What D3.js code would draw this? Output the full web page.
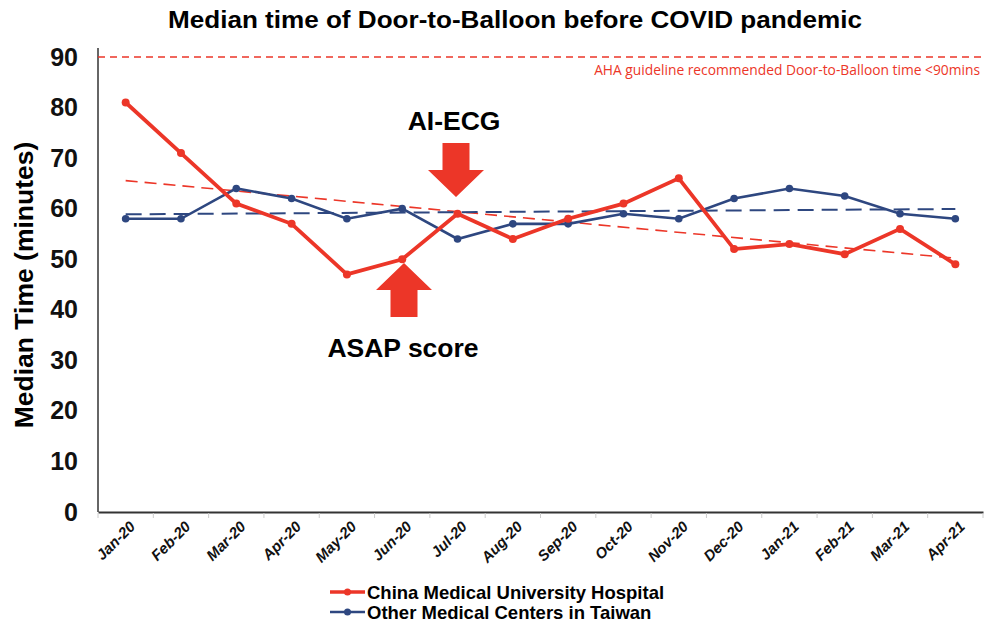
<!DOCTYPE html>
<html><head><meta charset="utf-8">
<script src="https://cdn.jsdelivr.net/npm/d3@7"></script>
<style>body{margin:0;background:#fff;}svg{display:block;}</style>
</head><body>
<svg id="c" width="984" height="626"></svg>
<script>
const months = ["Jan-20","Feb-20","Mar-20","Apr-20","May-20","Jun-20","Jul-20","Aug-20","Sep-20","Oct-20","Nov-20","Dec-20","Jan-21","Feb-21","Mar-21","Apr-21"];
const cmuh = [81,71,61,57,47,50,59,54,58,61,66,52,53,51,56,49];
const others = [58,58,64,62,58,60,54,57,57,59,58,62,64,62.5,59,58];
const yTicks = [0,10,20,30,40,50,60,70,80,90];
const guideline = 90;
const seriesNames = ["China Medical University Hospital","Other Medical Centers in Taiwan"];

const red = "#ec3628", blue = "#2e4780";
const svg = d3.select("#c");
const x = d3.scaleBand().domain(months).range([98, 983]);
const y = d3.scaleLinear().domain([0, 90]).range([512, 57]);
const cx = d => x(d) + x.bandwidth()/2;
const F = "'Liberation Sans', Arial, sans-serif";

// title
svg.append("text").attr("x", 515).attr("y", 28).attr("text-anchor","middle")
  .attr("font-family",F).attr("font-weight","bold").attr("font-size",24)
  .attr("textLength",694).attr("lengthAdjust","spacingAndGlyphs")
  .text("Median time of Door-to-Balloon before COVID pandemic");

// y axis
const ya = svg.append("g").attr("transform","translate(98,0)")
  .call(d3.axisLeft(y).tickValues(yTicks).tickSize(0).tickPadding(20));
ya.select(".domain").attr("stroke","#333").attr("stroke-width",1.5).attr("d","M0,48V512");
ya.selectAll("text").attr("font-family",F).attr("font-weight","bold").attr("font-size",25).attr("fill","#111");

svg.append("text").attr("transform","translate(33,285) rotate(-90)").attr("text-anchor","middle")
  .attr("font-family",F).attr("font-weight","bold").attr("font-size",26.5).text("Median Time (minutes)");

// x axis
const xa = svg.append("g").attr("transform","translate(0,512)")
  .call(d3.axisBottom(x).tickSize(0).tickPadding(10));
xa.select(".domain").attr("stroke","#333").attr("stroke-width",2.2);
xa.selectAll("text").attr("font-family",F).attr("font-weight","bold").attr("font-style","italic")
  .attr("font-size",15).attr("fill","#111").attr("text-anchor","end")
  .attr("transform", "translate(-4,1) rotate(-45)").attr("dx","0").attr("dy","0.7em");
// boundary ticks
svg.append("g").selectAll("line").data(months.concat(["_end"])).join("line")
  .attr("x1",(d,i)=>98+i*x.bandwidth()).attr("x2",(d,i)=>98+i*x.bandwidth())
  .attr("y1",513).attr("y2",518).attr("stroke","#ccc").attr("stroke-width",1);

// guideline
svg.append("line").attr("x1",98).attr("x2",983).attr("y1",y(guideline)).attr("y2",y(guideline))
  .attr("stroke",red).attr("stroke-width",1.3).attr("stroke-dasharray","7,5");
svg.append("text").attr("x",980).attr("y",75).attr("text-anchor","end")
  .attr("font-family","'Open Sans', sans-serif").attr("font-size",13.8).attr("fill",red)
  .text("AHA guideline recommended Door-to-Balloon time <90mins");

// trend lines (least squares fit of each series)
function trend(vals){
  const n=vals.length, mx=(n-1)/2, my=d3.mean(vals);
  let sxy=0,sxx=0; vals.forEach((v,i)=>{sxy+=(i-mx)*(v-my);sxx+=(i-mx)*(i-mx);});
  const b=sxy/sxx, a=my-b*mx; return [a, a+b*(n-1)];
}
[[cmuh,red,1.6,"12,7"],[others,blue,2,"16,8"]].forEach(([vals,col,w,da])=>{
  const t=trend(vals);
  svg.append("line").attr("x1",cx(months[0])).attr("x2",cx(months[months.length-1]))
    .attr("y1",y(t[0])).attr("y2",y(t[1])).attr("stroke",col).attr("stroke-width",w).attr("stroke-dasharray",da);
});

// series lines
const line = d3.line().x((d,i)=>cx(months[i])).y(d=>y(d));
svg.append("path").datum(others).attr("d",line).attr("fill","none").attr("stroke",blue).attr("stroke-width",2.6);
svg.append("g").selectAll("circle").data(others).join("circle")
  .attr("cx",(d,i)=>cx(months[i])).attr("cy",d=>y(d)).attr("r",3.8).attr("fill",blue);
svg.append("path").datum(cmuh).attr("d",line).attr("fill","none").attr("stroke",red).attr("stroke-width",3.8);
svg.append("g").selectAll("circle").data(cmuh).join("circle")
  .attr("cx",(d,i)=>cx(months[i])).attr("cy",d=>y(d)).attr("r",4).attr("fill",red);

// annotations
function arrow(tipX, tipY, dir){ // dir 1 = pointing down, -1 = up
  const hw=28, sw=13.5, hl=27, sl=27;
  const b=tipY-dir*hl, e=b-dir*sl;
  const p=[[tipX,tipY],[tipX+hw,b],[tipX+sw,b],[tipX+sw,e],[tipX-sw,e],[tipX-sw,b],[tipX-hw,b]];
  svg.append("path").attr("d","M"+p.map(q=>q.join(",")).join("L")+"Z").attr("fill",red);
}
arrow(456,197,1);
arrow(404,263,-1);
svg.append("text").attr("x",454).attr("y",130).attr("text-anchor","middle")
  .attr("font-family",F).attr("font-weight","bold").attr("font-size",26.5).text("AI-ECG");
svg.append("text").attr("x",403).attr("y",357).attr("text-anchor","middle")
  .attr("font-family",F).attr("font-weight","bold").attr("font-size",26.5).text("ASAP score");

// legend
seriesNames.forEach((n,i)=>{
  const ly=592+i*20, col=i?blue:red;
  svg.append("line").attr("x1",330).attr("x2",365).attr("y1",ly).attr("y2",ly).attr("stroke",col).attr("stroke-width",i?2.6:3.6);
  svg.append("circle").attr("cx",347.5).attr("cy",ly).attr("r",3.5).attr("fill",col);
  svg.append("text").attr("x",367).attr("y",ly+6.5).attr("font-family",F).attr("font-weight","bold").attr("font-size",18.5).text(n);
});
</script>
</body></html>
